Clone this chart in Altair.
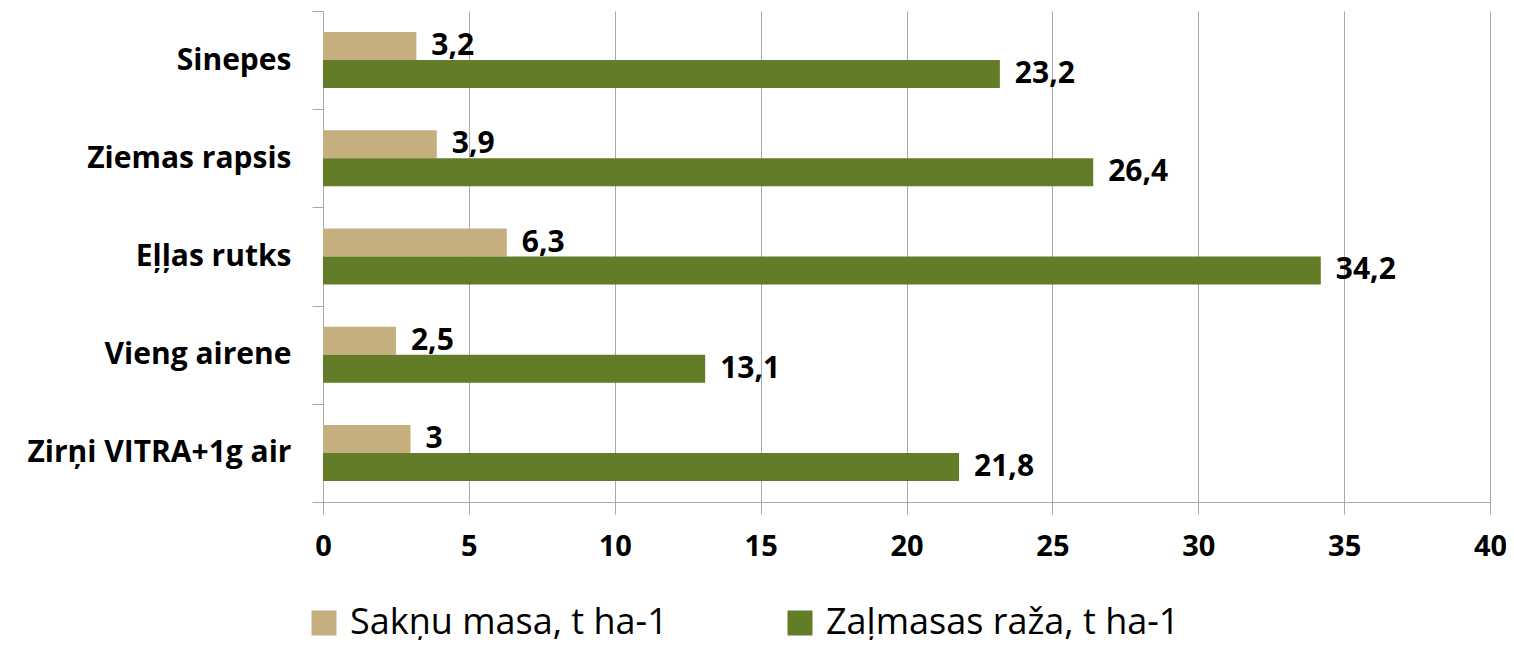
import altair as alt
import pandas as pd

categories = ["Sinepes", "Ziemas rapsis", "Eļļas rutks", "Vieng airene", "Zirņi VITRA+1g air"]
series = ["Sakņu masa, t ha-1", "Zaļmasas raža, t ha-1"]
sakņu_masa = [3.2, 3.9, 6.3, 2.5, 3.0]
zaļmasas_raža = [23.2, 26.4, 34.2, 13.1, 21.8]
colors = ["#C6AF7E", "#637C27"]
x_ticks = [0, 5, 10, 15, 20, 25, 30, 35, 40]

rows = []
for i, c in enumerate(categories):
    rows.append({"cat": c, "series": series[0], "value": sakņu_masa[i]})
    rows.append({"cat": c, "series": series[1], "value": zaļmasas_raža[i]})
df = pd.DataFrame(rows)

FONT = "Open Sans"
GRID = "#A9A9A9"

base = alt.Chart(df).transform_calculate(
    lbl="replace(toString(datum.value), '.', ',')"
)

y_enc = alt.Y(
    "cat:N",
    sort=categories,
    title=None,
    scale=alt.Scale(paddingInner=0, paddingOuter=0),
    axis=alt.Axis(
        tickBand="extent",
        tickSize=11,
        tickColor=GRID,
        domainColor=GRID,
        grid=False,
        labelFont=FONT,
        labelFontWeight="bold",
        labelFontSize=30,
        labelColor="black",
        labelPadding=21,
        labelLimit=0,
        labelBaseline="middle",
    ),
)
yoff = alt.YOffset(
    "series:N",
    sort=series,
    scale=alt.Scale(paddingInner=0, paddingOuter=0.754),
)

bars = base.mark_bar().encode(
    y=y_enc,
    yOffset=yoff,
    x=alt.X(
        "value:Q",
        title=None,
        scale=alt.Scale(domain=[0, 40], nice=False),
        axis=alt.Axis(
            values=x_ticks,
            grid=True,
            gridColor=GRID,
            tickColor=GRID,
            domainColor=GRID,
            tickSize=12,
            labelFont=FONT,
            labelFontWeight="bold",
            labelFontSize=29,
            labelColor="black",
            labelPadding=18,
            labelBaseline="top",
            labelFlush=False,
        ),
    ),
    color=alt.Color(
        "series:N",
        sort=series,
        scale=alt.Scale(domain=series, range=colors),
        legend=alt.Legend(
            title=None,
            orient="none",
            direction="horizontal",
            legendX=-17,
            legendY=594,
            symbolType="square",
            symbolSize=625,
            symbolStrokeWidth=0,
            labelFont=FONT,
            labelFontSize=36,
            labelColor="black",
            labelOffset=8,
            labelLimit=0,
            columnPadding=114,
            padding=0,
        ),
    ),
)

labels = base.mark_text(
    align="left", baseline="middle", dx=15,
    font=FONT, fontWeight="bold", fontSize=30, color="black",
).encode(
    y=alt.Y("cat:N", sort=categories),
    yOffset=alt.YOffset("series:N", sort=series),
    x=alt.X("value:Q"),
    text="lbl:N",
)

chart = (bars + labels).properties(
    width=1167,
    height=491,
    autosize=alt.AutoSizeParams(type="none"),
    padding={"left": 315, "top": 3, "right": 16, "bottom": 138},
).configure_view(stroke=None)

chart.save("out.html", embed_options={"renderer": "svg", "actions": False})
